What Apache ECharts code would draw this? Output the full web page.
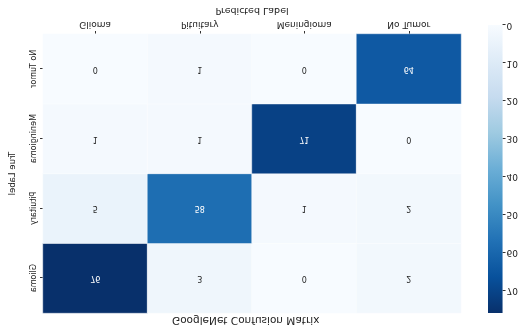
<!DOCTYPE html>
<html>
<head>
<meta charset="utf-8">
<script src="https://cdn.jsdelivr.net/npm/echarts@6/dist/echarts.min.js"></script>
<style>
  html, body { margin: 0; padding: 0; background: #ffffff; }
  #chart { width: 521px; height: 325px; transform: scaleY(-1); transform-origin: 50% 50%; }
</style>
</head>
<body>
<div id="chart"></div>
<script>
// Categories (top-to-bottom rows of the unflipped matrix, left-to-right columns)
const predictedLabels = ['Glioma', 'Pituitary', 'Meningioma', 'No Tumor'];
const trueLabels = ['Glioma', 'Pituitary', 'Meningioma', 'No Tumor'];

// Confusion-matrix rows (true label), values per predicted column
const rowGlioma = [76, 3, 0, 2];
const rowPituitary = [5, 58, 1, 2];
const rowMeningioma = [1, 1, 71, 0];
const rowNoTumor = [0, 1, 0, 64];

const colorMin = 0;
const colorMax = 76;
const blues = ['#f7fbff', '#deebf7', '#c6dbef', '#9ecae1', '#6baed6', '#4292c6', '#2171b5', '#08519c', '#08306b'];

const rows = [rowGlioma, rowPituitary, rowMeningioma, rowNoTumor];
const heatData = [];
rows.forEach((row, yi) => {
  row.forEach((v, xi) => {
    heatData.push({
      value: [xi, yi, v],
      label: { color: v > colorMax / 2 ? '#ffffff' : '#262626' }
    });
  });
});

const chart = echarts.init(document.getElementById('chart'), null, { renderer: 'canvas' });
const font = 'DejaVu Sans';

chart.setOption({
  animation: false,
  backgroundColor: '#ffffff',
  title: {
    text: 'GoogleNet Confusion Matrix',
    left: 172,
    top: 0,
    padding: 0,
    textStyle: { fontFamily: font, fontSize: 10.5, fontWeight: 'normal', color: '#222' }
  },
  grid: [
    { left: 40, top: 12, width: 421, height: 288 },
    { left: 488, top: 12, width: 20, height: 288 }
  ],
  xAxis: [
    {
      type: 'category', gridIndex: 0, data: predictedLabels,
      name: 'Predicted Label', nameLocation: 'middle', nameGap: 19,
      nameTextStyle: { fontFamily: font, fontSize: 9.5, color: '#222' },
      axisLine: { show: false },
      axisTick: { show: true, alignWithLabel: true, length: 3, lineStyle: { color: '#333' } },
      axisLabel: { fontFamily: font, fontSize: 9, color: '#222', margin: 5 },
      splitLine: { show: false }
    },
    {
      type: 'category', gridIndex: 1, data: ['cb'], show: false
    }
  ],
  yAxis: [
    {
      type: 'category', gridIndex: 0, data: trueLabels, inverse: true,
      name: 'True Label', nameLocation: 'middle', nameGap: 26, nameRotate: 90,
      nameTextStyle: { fontFamily: font, fontSize: 8.5, color: '#222' },
      axisLine: { show: false },
      axisTick: { show: true, alignWithLabel: true, length: 3, lineStyle: { color: '#333' } },
      axisLabel: { fontFamily: font, fontSize: 8, color: '#222', rotate: 90, margin: 5 },
      splitLine: { show: false }
    },
    {
      type: 'value', gridIndex: 1, min: colorMin, max: colorMax, interval: 10, position: 'right',
      axisLine: { show: false },
      axisTick: { show: true, length: 3, lineStyle: { color: '#333' } },
      axisLabel: { fontFamily: font, fontSize: 9, color: '#222', margin: 4, showMaxLabel: false },
      splitLine: { show: false }
    }
  ],
  visualMap: {
    show: false, type: 'continuous', min: colorMin, max: colorMax,
    seriesIndex: 0, dimension: 2,
    inRange: { color: blues }
  },
  series: [
    {
      type: 'heatmap', xAxisIndex: 0, yAxisIndex: 0, data: heatData,
      label: { show: true, fontFamily: font, fontSize: 8 },
      itemStyle: { borderColor: 'rgba(255,255,255,0.7)', borderWidth: 0.6 },
      emphasis: { disabled: true }
    },
    {
      type: 'bar', xAxisIndex: 1, yAxisIndex: 1, data: [colorMax], barWidth: '100%',
      silent: true,
      itemStyle: {
        color: new echarts.graphic.LinearGradient(0, 0, 0, 1,
          blues.slice().reverse().map((c, i) => ({ offset: i / (blues.length - 1), color: c })))
      }
    }
  ]
});
</script>
</body>
</html>
